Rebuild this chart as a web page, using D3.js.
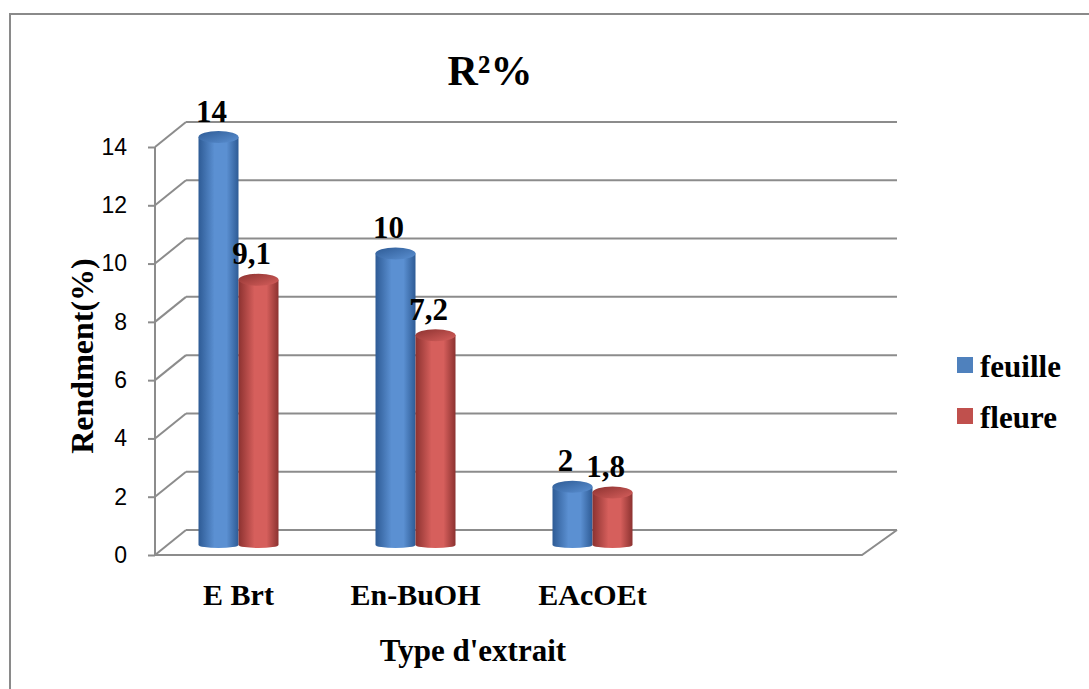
<!DOCTYPE html>
<html>
<head>
<meta charset="utf-8">
<script src="https://cdn.jsdelivr.net/npm/d3@7"></script>
<style>
  body { margin: 0; background: #fff; }
  svg { display: block; }
  .serif { font-family: 'Liberation Serif', 'Times New Roman', serif; font-weight: bold; }
  .sans { font-family: 'Liberation Sans', Arial, sans-serif; }
</style>
</head>
<body>
<div id="chart-container"></div>
<script>
// chart data
const categories = ["E Brt", "En-BuOH", "EAcOEt", ""];
const seriesNames = ["feuille", "fleure"];
const feuille = [14, 10, 2, null];
const fleure = [9.1, 7.2, 1.8, null];
const yTicks = [0, 2, 4, 6, 8, 10, 12, 14];

const seriesColors = {
    feuille: { dark: "#2e5b95", mid: "#5b90d2", flat: "#4f81bd" },
    fleure: { dark: "#8c3230", mid: "#d65f5c", flat: "#c0504d" }
};

const width = 1089, height = 689;
const svg = d3.select("#chart-container")
              .append("svg")
              .attr("width", width)
              .attr("height", height);

// outer frame (cut by the window on right / bottom)
svg.append("path")
   .attr("d", "M10,700 L10,14 L1100,14")
   .attr("fill", "none")
   .attr("stroke", "#8a8a8a")
   .attr("stroke-width", 2);

// 3D geometry
const depthX = 31, depthY = -25;   // full depth of the walls
const barDY = -10;                 // bars stand in mid depth
const x0 = 155, x1 = 862;

const y = d3.scaleLinear().domain([0, 14]).range([555, 147]);

const x = d3.scaleBand()
            .domain(categories)
            .range([150, 858]);

const gray = "#8c8c8c";
const grid = svg.append("g");

// back wall grid lines and side-wall diagonals
yTicks.forEach(t => {
    grid.append("line")
        .attr("x1", x0).attr("y1", y(t))
        .attr("x2", x0 + depthX).attr("y2", y(t) + depthY)
        .attr("stroke", gray).attr("stroke-width", 2);
    grid.append("line")
        .attr("x1", x0 + depthX).attr("y1", y(t) + depthY)
        .attr("x2", x1 + depthX + 4).attr("y2", y(t) + depthY)
        .attr("stroke", gray).attr("stroke-width", 2);
});

// floor front edge + right edge
grid.append("path")
    .attr("d", `M${x0},${y(0)} L${x1},${y(0)} L${x1 + depthX + 4},${y(0) + depthY}`)
    .attr("fill", "none").attr("stroke", gray).attr("stroke-width", 2);

// y axis
const yAxis = svg.append("g")
   .attr("transform", `translate(${x0},0)`)
   .call(d3.axisLeft(y).tickValues(yTicks).tickSize(7).tickPadding(21));
yAxis.attr("font-family", null).attr("font-size", null);
yAxis.select(".domain").attr("stroke", gray).attr("stroke-width", 2)
     .attr("d", `M0,${y(14)}V${y(0)}`);
yAxis.selectAll(".tick line").attr("stroke", gray).attr("stroke-width", 2);
yAxis.selectAll(".tick text")
     .attr("class", "sans")
     .style("font-size", "23px")
     .attr("fill", "#000");

// gradients
const defs = svg.append("defs");
seriesNames.forEach(s => {
    const c = seriesColors[s];
    const g = defs.append("linearGradient").attr("id", "body-" + s)
                  .attr("x1", "0").attr("x2", "1").attr("y1", "0").attr("y2", "0");
    g.append("stop").attr("offset", "0%").attr("stop-color", c.dark);
    g.append("stop").attr("offset", "40%").attr("stop-color", c.mid);
    g.append("stop").attr("offset", "70%").attr("stop-color", c.mid);
    g.append("stop").attr("offset", "100%").attr("stop-color", c.dark);
    const t = defs.append("linearGradient").attr("id", "top-" + s)
                  .attr("x1", "0").attr("x2", "1").attr("y1", "0").attr("y2", "1");
    t.append("stop").attr("offset", "0%").attr("stop-color", c.dark);
    t.append("stop").attr("offset", "100%").attr("stop-color", c.mid);
});

// bars as cylinders
const barW = 40, rx = barW / 2, ry = 6;
const bars = svg.append("g");
const labels = svg.append("g");

categories.forEach((cat, i) => {
    const cx = x(cat) + x.bandwidth() / 2;
    [feuille[i], fleure[i]].forEach((v, j) => {
        if (v === null) return;
        const s = seriesNames[j];
        const left = cx - barW + j * barW;
        const right = left + barW;
        const yb = y(0) + barDY;
        const yt = y(v) + barDY;
        bars.append("path")
            .attr("d", `M${left},${yt} L${left},${yb} A${rx},3 0 0 0 ${right},${yb} L${right},${yt} Z`)
            .attr("fill", `url(#body-${s})`);
        bars.append("ellipse")
            .attr("cx", left + rx).attr("cy", yt)
            .attr("rx", rx).attr("ry", ry)
            .attr("fill", `url(#top-${s})`);
        labels.append("text")
            .attr("class", "serif")
            .attr("x", left + rx - 7)
            .attr("y", yt - ry - 9.5)
            .attr("text-anchor", "middle")
            .style("font-size", "31px")
            .text(String(v).replace(".", ","));
    });
});

// category labels
svg.append("g").selectAll("text")
   .data(categories.filter(c => c !== ""))
   .enter().append("text")
   .attr("class", "serif")
   .attr("x", d => x(d) + x.bandwidth() / 2)
   .attr("y", 605)
   .attr("text-anchor", "middle")
   .style("font-size", "30px")
   .text(d => d);

// title
svg.append("text")
   .attr("class", "serif")
   .attr("x", 490).attr("y", 85)
   .attr("text-anchor", "middle")
   .style("font-size", "42px")
   .text("R²%");

// axis titles
svg.append("text")
   .attr("class", "serif")
   .attr("x", 473).attr("y", 661)
   .attr("text-anchor", "middle")
   .style("font-size", "31px")
   .text("Type d'extrait");

svg.append("text")
   .attr("class", "serif")
   .attr("transform", "translate(93,356) rotate(-90)")
   .attr("text-anchor", "middle")
   .style("font-size", "32px")
   .text("Rendment(%)");

// legend
const legend = svg.append("g").attr("transform", "translate(957,357)");
seriesNames.forEach((s, i) => {
    const item = legend.append("g").attr("transform", `translate(0,${i * 51})`);
    item.append("rect")
        .attr("width", 16).attr("height", 16)
        .attr("fill", seriesColors[s].flat);
    item.append("text")
        .attr("class", "serif")
        .attr("x", 23).attr("y", 20)
        .style("font-size", "31px")
        .text(s);
});
</script>
</body>
</html>
